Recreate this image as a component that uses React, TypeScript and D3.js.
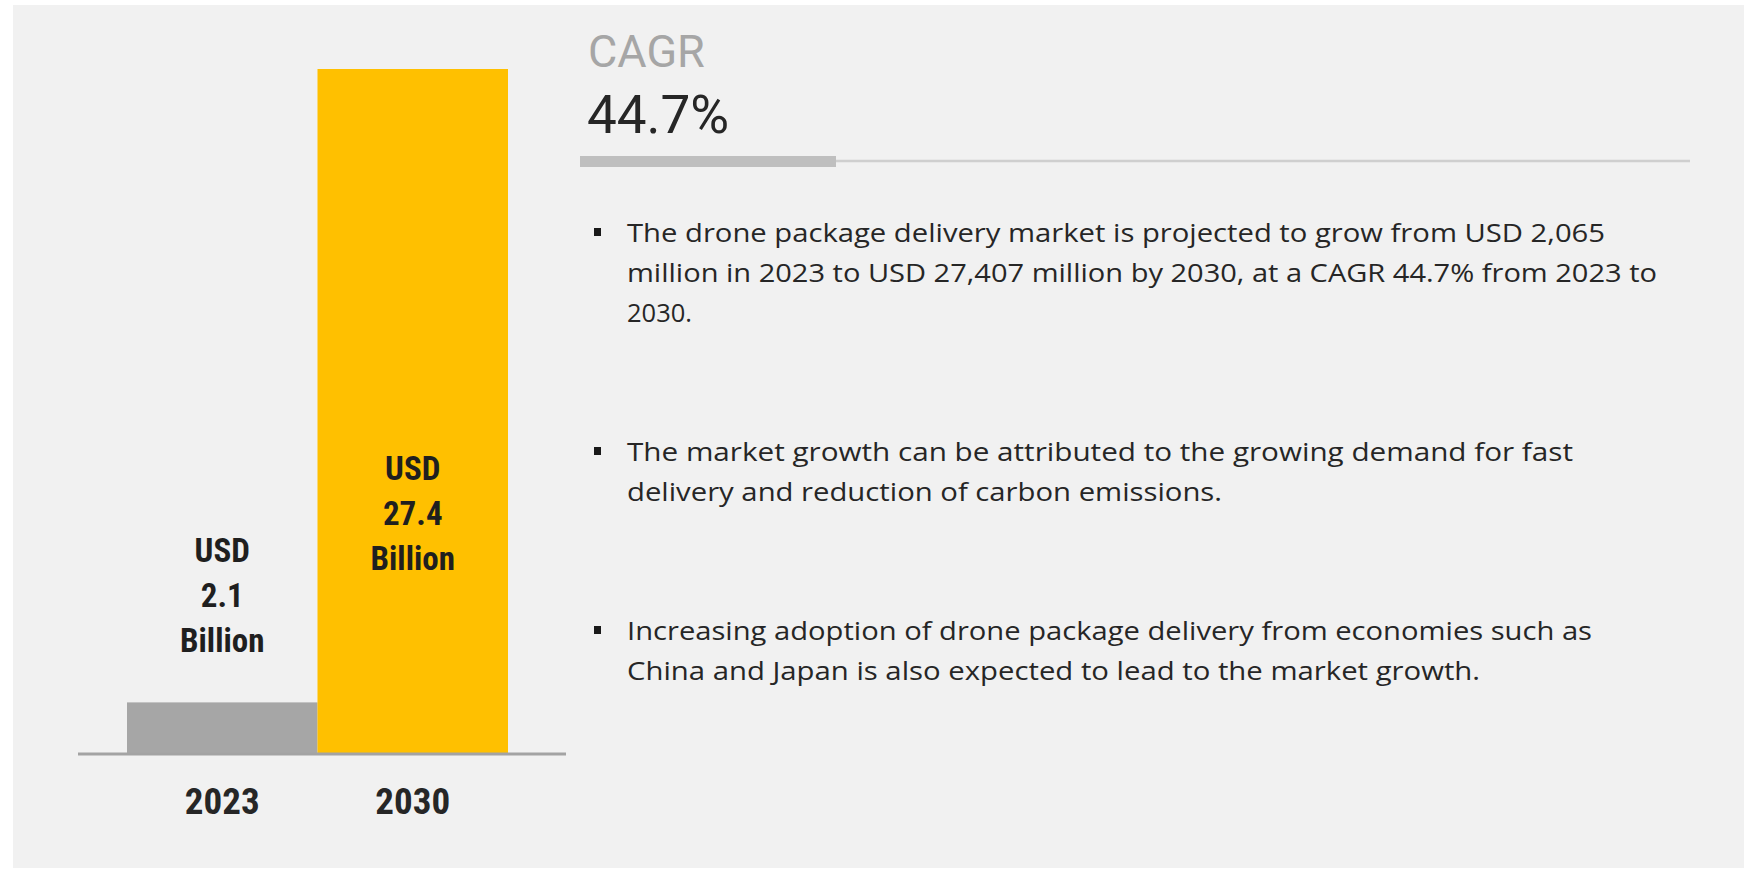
import * as d3 from "d3";

// Market size, USD billion (2,065 and 27,407 million)
const years = ["2023", "2030"];
const marketSize = [2.065, 27.407];
const barColors = ["#a6a6a6", "#ffc000"];
const barLabels = [
  ["USD", "2.1", "Billion"],
  ["USD", "27.4", "Billion"],
];

const cagrTitle = "CAGR";
const cagrValue = "44.7%";

const bullets = [
  [
    "The drone package delivery market is projected to grow from USD 2,065",
    "million in 2023 to USD 27,407 million by 2030, at a CAGR 44.7% from 2023 to",
    "2030.",
  ],
  [
    "The market growth can be attributed to the growing demand for fast",
    "delivery and reduction of carbon emissions.",
  ],
  [
    "Increasing adoption of drone package delivery from economies such as",
    "China and Japan is also expected to lead to the market growth.",
  ],
];
// measured right edge of each line in the reference
const bulletLineEnds = [
  [1605, 1657, 692],
  [1573, 1222],
  [1592, 1480],
];

const W = 1744;
const H = 872;
const baseY = 754;
const narrow = "'Liberation Sans Narrow', 'Arial Narrow', 'Roboto Condensed', Roboto, sans-serif";

export default function App() {
  const x = d3.scaleBand<string>().domain(years).range([127, 508]).padding(0);
  const y = d3.scaleLinear().domain([0, d3.max(marketSize) as number]).range([baseY, 69]);

  const textX = 627;
  const bulletTops = [242, 461, 640];
  const lineGap = 40;

  return (
    <div style={{ position: "absolute", left: 0, top: 0 }}>
      <svg width={W} height={H} style={{ display: "block", background: "#ffffff" }}>
        <rect x={13} y={5} width={W - 13} height={863} fill="#f1f1f1" />

        {/* bars */}
        {years.map((yr, i) => (
          <rect
            key={yr}
            x={x(yr)}
            y={y(marketSize[i])}
            width={x.bandwidth()}
            height={baseY - y(marketSize[i])}
            fill={barColors[i]}
          />
        ))}

        {/* baseline */}
        <line x1={78} x2={566} y1={baseY} y2={baseY} stroke="#a3a3a3" strokeWidth={3} />

        {/* year labels */}
        {years.map((yr) => (
          <text
            key={yr}
            x={(x(yr) as number) + x.bandwidth() / 2}
            y={814}
            textAnchor="middle"
            fontFamily={narrow}
            fontWeight="bold"
            fontSize={37}
            fill="#262626"
          >
            {yr}
          </text>
        ))}

        {/* value labels */}
        {barLabels.map((lines, i) => {
          const cx = (x(years[i]) as number) + x.bandwidth() / 2;
          const first = i === 0 ? y(marketSize[i]) - 140 : y(marketSize[i]) + 411;
          return lines.map((t, j) => (
            <text
              key={i + "-" + j}
              x={cx}
              y={first + j * 45}
              textAnchor="middle"
              fontFamily={narrow}
              fontWeight="bold"
              fontSize={33}
              fill="#1f1f1f"
            >
              {t}
            </text>
          ));
        })}

        {/* CAGR block */}
        <text x={588} y={67} fontFamily="Roboto, sans-serif" fontSize={45} fill="#a6a6a6">
          {cagrTitle}
        </text>
        <text x={587} y={133} fontFamily="Roboto, sans-serif" fontSize={53} fill="#262626">
          {cagrValue}
        </text>
        <line x1={836} x2={1690} y1={161} y2={161} stroke="#cfcfcf" strokeWidth={2.5} />
        <rect x={580} y={156} width={256} height={11} fill="#bfbfbf" />

        {/* bullets */}
        {bullets.map((lines, i) => (
          <g key={i}>
            <rect x={594} y={bulletTops[i] - 14} width={7} height={8} fill="#1a1a1a" />
            {lines.map((t, j) => (
              <text
                key={j}
                x={textX}
                y={bulletTops[i] + j * lineGap}
                fontFamily="'Open Sans', sans-serif"
                fontSize={25}
                fill="#262626"
                textLength={bulletLineEnds[i][j] - textX}
                lengthAdjust="spacingAndGlyphs"
              >
                {t}
              </text>
            ))}
          </g>
        ))}
      </svg>
    </div>
  );
}
